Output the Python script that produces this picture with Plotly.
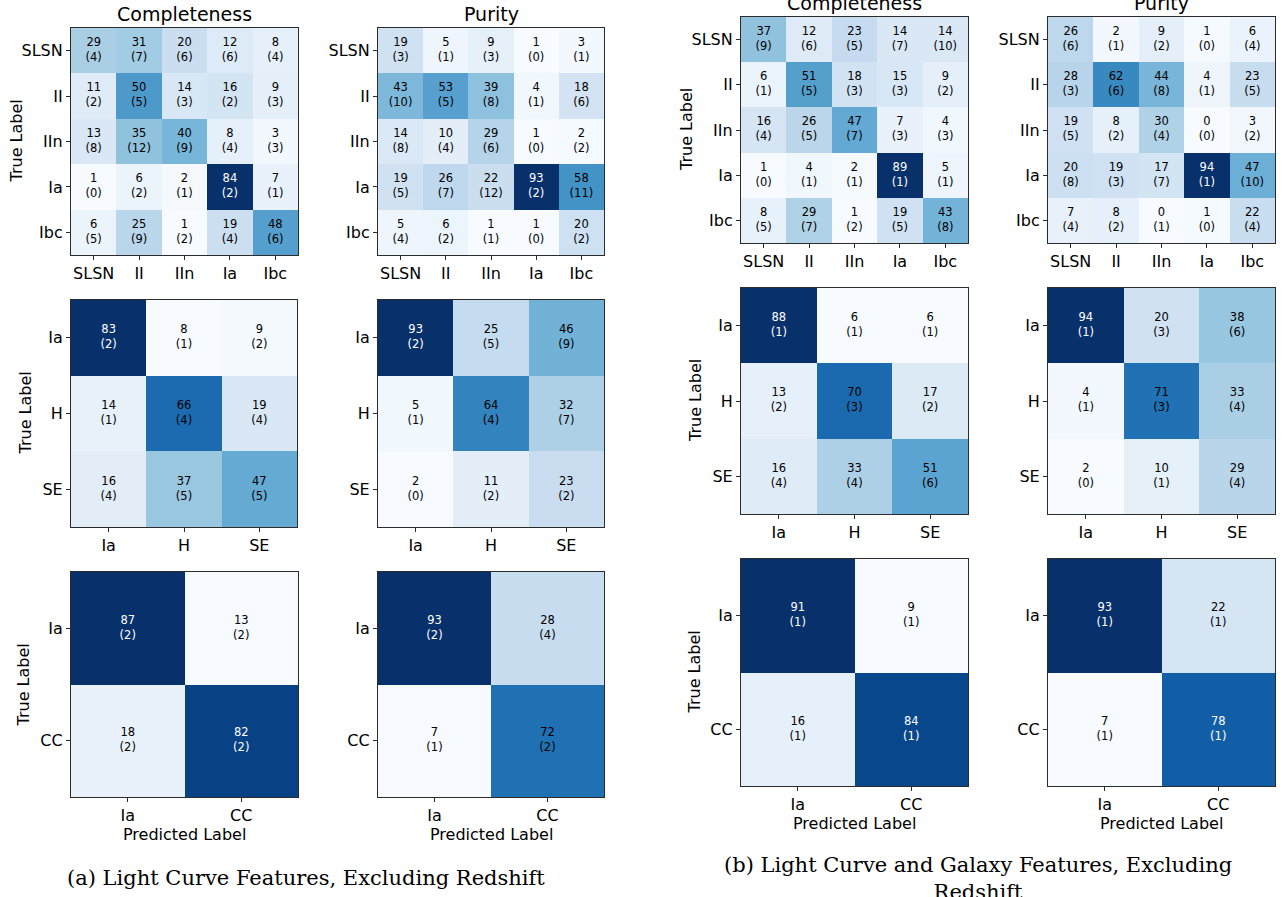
import plotly.graph_objects as go

# ---------------- data ----------------
labels5 = ["SLSN", "II", "IIn", "Ia", "Ibc"]
labels3 = ["Ia", "H", "SE"]
labels2 = ["Ia", "CC"]

# (a) Light curve features, excluding redshift
a_comp5 = [[29, 31, 20, 12, 8], [11, 50, 14, 16, 9], [13, 35, 40, 8, 3], [1, 6, 2, 84, 7], [6, 25, 1, 19, 48]]
a_comp5_err = [[4, 7, 6, 6, 4], [2, 5, 3, 2, 3], [8, 12, 9, 4, 3], [0, 2, 1, 2, 1], [5, 9, 2, 4, 6]]
a_pur5 = [[19, 5, 9, 1, 3], [43, 53, 39, 4, 18], [14, 10, 29, 1, 2], [19, 26, 22, 93, 58], [5, 6, 1, 1, 20]]
a_pur5_err = [[3, 1, 3, 0, 1], [10, 5, 8, 1, 6], [8, 4, 6, 0, 2], [5, 7, 12, 2, 11], [4, 2, 1, 0, 2]]
a_comp3 = [[83, 8, 9], [14, 66, 19], [16, 37, 47]]
a_comp3_err = [[2, 1, 2], [1, 4, 4], [4, 5, 5]]
a_pur3 = [[93, 25, 46], [5, 64, 32], [2, 11, 23]]
a_pur3_err = [[2, 5, 9], [1, 4, 7], [0, 2, 2]]
a_comp2 = [[87, 13], [18, 82]]
a_comp2_err = [[2, 2], [2, 2]]
a_pur2 = [[93, 28], [7, 72]]
a_pur2_err = [[2, 4], [1, 2]]

# (b) Light curve and galaxy features, excluding redshift
b_comp5 = [[37, 12, 23, 14, 14], [6, 51, 18, 15, 9], [16, 26, 47, 7, 4], [1, 4, 2, 89, 5], [8, 29, 1, 19, 43]]
b_comp5_err = [[9, 6, 5, 7, 10], [1, 5, 3, 3, 2], [4, 5, 7, 3, 3], [0, 1, 1, 1, 1], [5, 7, 2, 5, 8]]
b_pur5 = [[26, 2, 9, 1, 6], [28, 62, 44, 4, 23], [19, 8, 30, 0, 3], [20, 19, 17, 94, 47], [7, 8, 0, 1, 22]]
b_pur5_err = [[6, 1, 2, 0, 4], [3, 6, 8, 1, 5], [5, 2, 4, 0, 2], [8, 3, 7, 1, 10], [4, 2, 1, 0, 4]]
b_comp3 = [[88, 6, 6], [13, 70, 17], [16, 33, 51]]
b_comp3_err = [[1, 1, 1], [2, 3, 2], [4, 4, 6]]
b_pur3 = [[94, 20, 38], [4, 71, 33], [2, 10, 29]]
b_pur3_err = [[1, 3, 6], [1, 3, 4], [0, 1, 4]]
b_comp2 = [[91, 9], [16, 84]]
b_comp2_err = [[1, 1], [1, 1]]
b_pur2 = [[93, 22], [7, 78]]
b_pur2_err = [[1, 1], [1, 1]]

caption_a = "(a) Light Curve Features, Excluding Redshift"
caption_b = "(b) Light Curve and Galaxy Features, Excluding<br>Redshift"

# ---------------- styling / layout ----------------
W, H = 1284, 897
blues = ["#f7fbff", "#deebf7", "#c6dbef", "#9ecae1", "#6baed6",
         "#4292c6", "#2171b5", "#08519c", "#08306b"]
colorscale = [[i / 8, c] for i, c in enumerate(blues)]
SANS = "DejaVu Sans"
SPINE = "#2b2b2b"

# panel boxes in pixels: x0, x1, y0(top), y1(bottom)
panels = [
    (a_comp5, a_comp5_err, labels5, (71, 298, 28, 255)),
    (a_pur5, a_pur5_err, labels5, (378, 604, 28, 255)),
    (a_comp3, a_comp3_err, labels3, (71, 297, 300, 527)),
    (a_pur3, a_pur3_err, labels3, (378, 604, 300, 527)),
    (a_comp2, a_comp2_err, labels2, (71, 298, 572, 797)),
    (a_pur2, a_pur2_err, labels2, (378, 604, 572, 797)),
    (b_comp5, b_comp5_err, labels5, (741, 968, 17, 243)),
    (b_pur5, b_pur5_err, labels5, (1048, 1275, 17, 243)),
    (b_comp3, b_comp3_err, labels3, (741, 968, 288, 514)),
    (b_pur3, b_pur3_err, labels3, (1048, 1275, 288, 514)),
    (b_comp2, b_comp2_err, labels2, (741, 968, 559, 786)),
    (b_pur2, b_pur2_err, labels2, (1048, 1275, 559, 786)),
]

fig = go.Figure()
layout = {}
for k, (z, err, labs, box) in enumerate(panels):
    n = len(labs)
    idx = "" if k == 0 else str(k + 1)
    xa, ya = "x" + idx, "y" + idx
    idxs = list(range(n))
    fig.add_trace(go.Heatmap(
        z=z, x=idxs, y=idxs, colorscale=colorscale, showscale=False,
        xaxis=xa, yaxis=ya, hoverinfo="skip"))
    xs, ys, txt, cols = [], [], [], []
    for i in range(n):
        for j in range(n):
            xs.append(j)
            ys.append(i)
            txt.append(f"{z[i][j]}<br>({err[i][j]})")
            cols.append("white" if z[i][j] > 75 else "black")
    fig.add_trace(go.Scatter(
        x=xs, y=ys, text=txt, mode="text", xaxis=xa, yaxis=ya,
        textfont=dict(family=SANS, size=11.5, color=cols),
        hoverinfo="skip", showlegend=False))
    x0, x1, y0, y1 = box
    common = dict(
        tickmode="array", tickvals=idxs, ticktext=labs,
        ticks="outside", ticklen=4, tickwidth=1, tickcolor=SPINE,
        showline=True, linecolor=SPINE, linewidth=1.2, mirror=True,
        showgrid=False, zeroline=False, fixedrange=True,
        tickfont=dict(family=SANS, size=16, color="black"),
    )
    layout["xaxis" + idx] = dict(common, domain=[x0 / W, x1 / W],
                                 range=[-0.5, n - 0.5], anchor=ya)
    layout["yaxis" + idx] = dict(common, domain=[1 - y1 / H, 1 - y0 / H],
                                 range=[n - 0.5, -0.5], anchor=xa)

ann = []
def label(text, x, y, size=16, angle=0, family=SANS):
    ann.append(dict(text=text, x=x / W, y=1 - y / H, xref="paper", yref="paper",
                    showarrow=False, textangle=angle, xanchor="center",
                    yanchor="middle", font=dict(family=family, size=size, color="black")))

# titles
label("Completeness", 184.5, 14, size=19)
label("Purity", 491, 14, size=19)
label("Completeness", 854.5, 3, size=19)
label("Purity", 1161.5, 3, size=19)
# y labels
for x, yc in [(16, 141.5), (25, 413.5), (23, 684.5), (687, 130), (695, 401), (694, 672.5)]:
    label("True Label", x, yc, size=16, angle=-90)
# x labels
for x, y in [(184.5, 834), (491, 834), (854.5, 823), (1161.5, 823)]:
    label("Predicted Label", x, y, size=16)
# captions
label(caption_a, 306, 878, size=21, family="DejaVu Serif")
ann.append(dict(text=caption_b, x=978 / W, y=1 - 851 / H, xref="paper", yref="paper",
                showarrow=False, xanchor="center", yanchor="top", align="center",
                font=dict(family="DejaVu Serif", size=21, color="black")))

fig.update_layout(
    width=W, height=H, autosize=False,
    margin=dict(l=0, r=0, t=0, b=0),
    paper_bgcolor="white", plot_bgcolor="white",
    showlegend=False, annotations=ann, **layout)

fig.write_html("out.html", config={"displayModeBar": False},
               post_script="document.body.style.margin='0';document.body.style.overflow='hidden';")
